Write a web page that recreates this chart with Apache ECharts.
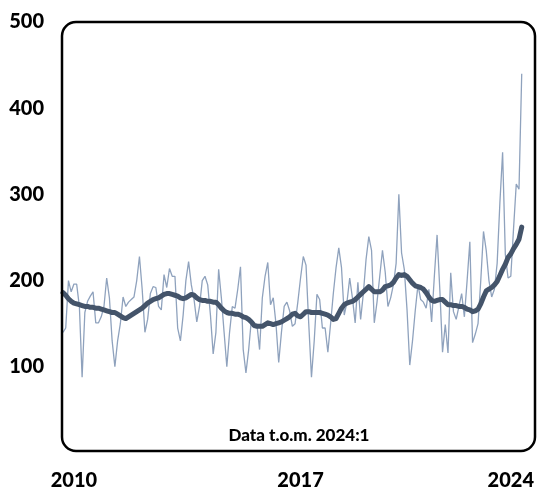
<!DOCTYPE html>
<html>
<head>
<meta charset="utf-8">
<script src="https://cdn.jsdelivr.net/npm/echarts@6/dist/echarts.min.js"></script>
<style>
html,body{margin:0;padding:0;background:#fff;}
#chart{width:537px;height:492px;}
</style>
</head>
<body>
<div id="chart"></div>
<script>
// Months 2010:1 .. 2024:1
var startYear = 2010, endYear = 2024;
var months = [];
for (var y = startYear; y <= endYear; y++) {
  for (var m = 1; m <= 12; m++) {
    if (y === endYear && m > 1) break;
    months.push(y + ':' + m);
  }
}

// Monthly values (thin line)
var monthly = [
  140,145,200,187,196,196,170,88,163,176,182,187,
  151,151,158,170,203,180,130,100,130,150,181,170,
  175,178,181,200,228,190,140,155,185,193,192,170,
  166,207,192,214,205,205,145,130,160,200,222,195,
  178,152,170,200,205,195,160,115,140,213,180,140,
  100,140,170,168,190,216,120,93,120,155,145,150,
  120,180,205,221,172,180,150,105,140,170,175,165,
  147,150,175,203,228,218,150,88,130,184,178,145,
  145,117,150,185,215,238,215,160,175,203,180,151,
  198,155,185,225,251,235,151,175,205,235,210,170,
  180,195,220,300,232,213,166,102,130,165,195,178,
  175,168,190,152,205,253,190,117,149,116,209,164,
  155,170,185,158,200,245,128,138,150,200,257,235,
  200,181,190,220,290,349,230,203,205,260,312,306,
  440
];

// Moving average (thick line)
var trend = [
  186,183,179,176,174,173,172,171,170,170,169,169,
  168,168,167,166,165,164,163,163,161,159,157,156,
  158,160,162,164,166,168,171,174,176,178,179,180,
  182,184,185,185,184,183,182,180,179,180,182,184,
  183,180,178,177,177,176,176,175,175,172,168,165,
  163,162,162,161,161,160,158,157,155,152,148,147,
  147,147,149,151,150,149,150,151,152,154,156,158,
  161,162,159,158,161,164,164,163,163,163,163,162,
  161,160,158,155,156,162,168,172,174,175,176,178,
  181,184,187,190,193,190,187,187,187,189,193,194,
  195,198,203,207,206,207,205,201,197,194,193,192,
  190,186,181,177,176,177,178,178,175,172,172,171,
  171,170,170,169,167,166,164,165,167,173,181,188,
  190,192,195,199,206,213,219,227,231,237,242,248,
  262
];

var yTicks = [0, 100, 200, 300, 400, 500];
var xTickLabels = ['2010', '2017', '2024'];
var xTickIdx = [4, 87, 164];
var noteText = 'Data t.o.m. 2024:1';

var chart = echarts.init(document.getElementById('chart'), null, {renderer: 'canvas'});
var fontFam = 'Lato, "Open Sans", sans-serif';
chart.setOption({
  animation: false,
  grid: {left: 63, right: 11, top: 22, bottom: 39, containLabel: false},
  xAxis: {
    type: 'category',
    data: months,
    boundaryGap: false,
    axisLine: {show: false},
    axisTick: {show: false},
    splitLine: {show: false},
    axisLabel: {
      interval: function (i) { return xTickIdx.indexOf(i) >= 0; },
      formatter: function (v, i) {
        var k = xTickIdx.indexOf(i);
        return k >= 0 ? xTickLabels[k] : '';
      },
      margin: 18,
      fontFamily: fontFam,
      fontWeight: 900,
      fontSize: 20,
      color: '#000'
    }
  },
  yAxis: {
    type: 'value',
    min: yTicks[0],
    max: yTicks[yTicks.length - 1],
    interval: 100,
    axisLine: {show: false},
    axisTick: {show: false},
    splitLine: {show: false},
    axisLabel: {
      formatter: function (v) { return v === 0 ? '' : String(v); },
      margin: 19,
      fontFamily: fontFam,
      fontWeight: 900,
      fontSize: 20,
      color: '#000'
    }
  },
  series: [
    {
      type: 'line',
      data: monthly,
      showSymbol: false,
      lineStyle: {color: '#8fa2bd', width: 1.3},
      z: 2
    },
    {
      type: 'line',
      data: trend,
      showSymbol: false,
      lineStyle: {color: '#44546a', width: 5, cap: 'round', join: 'round'},
      z: 3
    }
  ],
  graphic: [
    {
      type: 'rect',
      shape: {x: 62, y: 22, width: 473, height: 429, r: 14},
      style: {fill: 'none', stroke: '#000', lineWidth: 2.5},
      z: 10
    },
    {
      type: 'text',
      x: 299,
      y: 436,
      style: {text: noteText, fontFamily: fontFam, fontWeight: 900, fontSize: 17, fill: '#000', align: 'center', verticalAlign: 'middle'},
      z: 10
    }
  ]
});
</script>
</body>
</html>
